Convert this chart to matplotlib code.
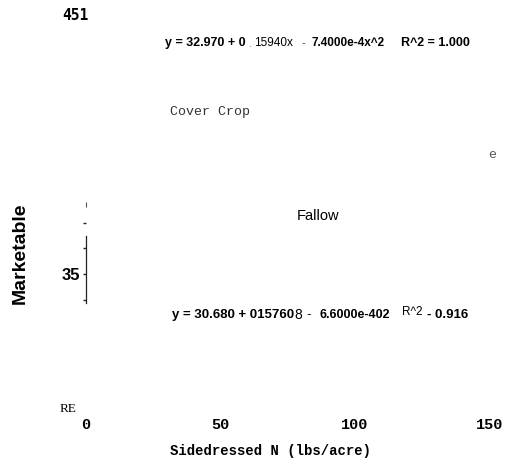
import matplotlib
matplotlib.use("Agg")
import matplotlib.pyplot as plt

W, H = 507, 473
DPI = 100

# axis values
x_ticks = [0, 50, 100, 150]
x_tick_labels = ["0", "50", "100", "150"]
y_ticks = [34, 35, 36, 37]
y_tick_labels = ["", "35", "", ""]
x_limits = (0, 150)
y_limits = (29.71, 44.49)
spine_range = (33.87, 36.48)
spine_stub = (37.61, 37.80)

# fitted curves, as printed
cover_crop_eq = ["y = 32.970 + 0", ".", "15940x", "-", "7.4000e-4x^2", "R^2 = 1.000"]
fallow_eq = ["y = 30.680 + 015760", "8", "-", "6.6000e-402", "R^2", "- 0.916"]

SANS = "Liberation Sans"
MONO = "Liberation Mono"
SERIF = "Liberation Serif"

fig = plt.figure(figsize=(W / DPI, H / DPI), dpi=DPI)
fig.patch.set_facecolor("white")


def px(x, y):
    return x / W, 1 - y / H


def put(x, y, s, **kw):
    fx, fy = px(x, y)
    kw.setdefault("va", "center")
    kw.setdefault("ha", "left")
    fig.text(fx, fy, s, **kw)


# plot area
left, right, top, bottom = 86, 489.5, 30, 410
ax = fig.add_axes([left / W, 1 - bottom / H, (right - left) / W, (bottom - top) / H])
ax.set_facecolor("none")
ax.set_xlim(*x_limits)
ax.set_ylim(*y_limits)
for side in ("top", "right", "bottom"):
    ax.spines[side].set_visible(False)
ax.spines["left"].set_bounds(*spine_range)
ax.spines["left"].set_linewidth(0.9)
ax.spines["left"].set_color("#222222")
ax.vlines(0, *spine_stub, color="#555555", lw=0.8, clip_on=False)

ax.set_yticks(y_ticks, labels=y_tick_labels)
ax.tick_params(axis="y", direction="out", length=2.5, width=1.0, color="#222222", pad=2)
for lab in ax.get_yticklabels():
    lab.set_fontfamily(SANS)
    lab.set_fontweight("bold")
    lab.set_fontsize(12)

ax.set_xticks(x_ticks, labels=x_tick_labels)
ax.tick_params(axis="x", length=0, pad=6)
for lab in ax.get_xticklabels():
    lab.set_fontfamily(MONO)
    lab.set_fontweight("bold")
    lab.set_fontsize(11)

ax.set_xlabel("Sidedressed N (lbs/acre)", family=MONO, fontweight="bold", fontsize=10)
ax.xaxis.set_label_coords((271 - left) / (right - left), (bottom - 451) / (bottom - top))
ax.xaxis.label.set_va("center")

ax.set_ylabel("Marketable", family=SANS, fontweight="bold", fontsize=14)
ax.yaxis.set_label_coords((20 - left) / (right - left), (bottom - 253) / (bottom - top))
ax.yaxis.label.set_va("center")

# loose labels around the plot
put(62, 15, "451", family="DejaVu Sans Mono", fontweight="bold", fontsize=10.5)
put(170, 112, "Cover Crop", family=MONO, fontsize=9.5, color="#333333")
put(488, 155, "e", family=MONO, fontsize=9.5, color="#555555")
put(297, 216, "Fallow", family=SANS, fontsize=10.5)
put(60, 409, "RE", family=SERIF, fontsize=9.5)

# cover crop regression
put(165, 43, cover_crop_eq[0], family=SANS, fontweight="bold", fontsize=9)
put(248, 44, cover_crop_eq[1], family=SANS, fontsize=7, color="#666666")
put(254, 43, cover_crop_eq[2], family=SANS, fontsize=8.5)
put(302, 43, cover_crop_eq[3], family=SANS, fontsize=8, color="#444444")
put(312, 43, cover_crop_eq[4], family=SANS, fontweight="bold", fontsize=8.5)
put(401, 43, cover_crop_eq[5], family=SANS, fontweight="bold", fontsize=9)

# fallow regression
put(172, 315, fallow_eq[0], family=SANS, fontweight="bold", fontsize=9.5)
put(294, 315, fallow_eq[1], family=SANS, fontsize=10)
put(306, 315, fallow_eq[2], family=SANS, fontsize=9.5)
put(319, 315, fallow_eq[3], family=SANS, fontweight="bold", fontsize=9)
put(402, 312, fallow_eq[4], family=SANS, fontsize=8.5)
put(427, 315, fallow_eq[5], family=SANS, fontweight="bold", fontsize=9.5)

fig.savefig("out.png", dpi=DPI, facecolor="white")
